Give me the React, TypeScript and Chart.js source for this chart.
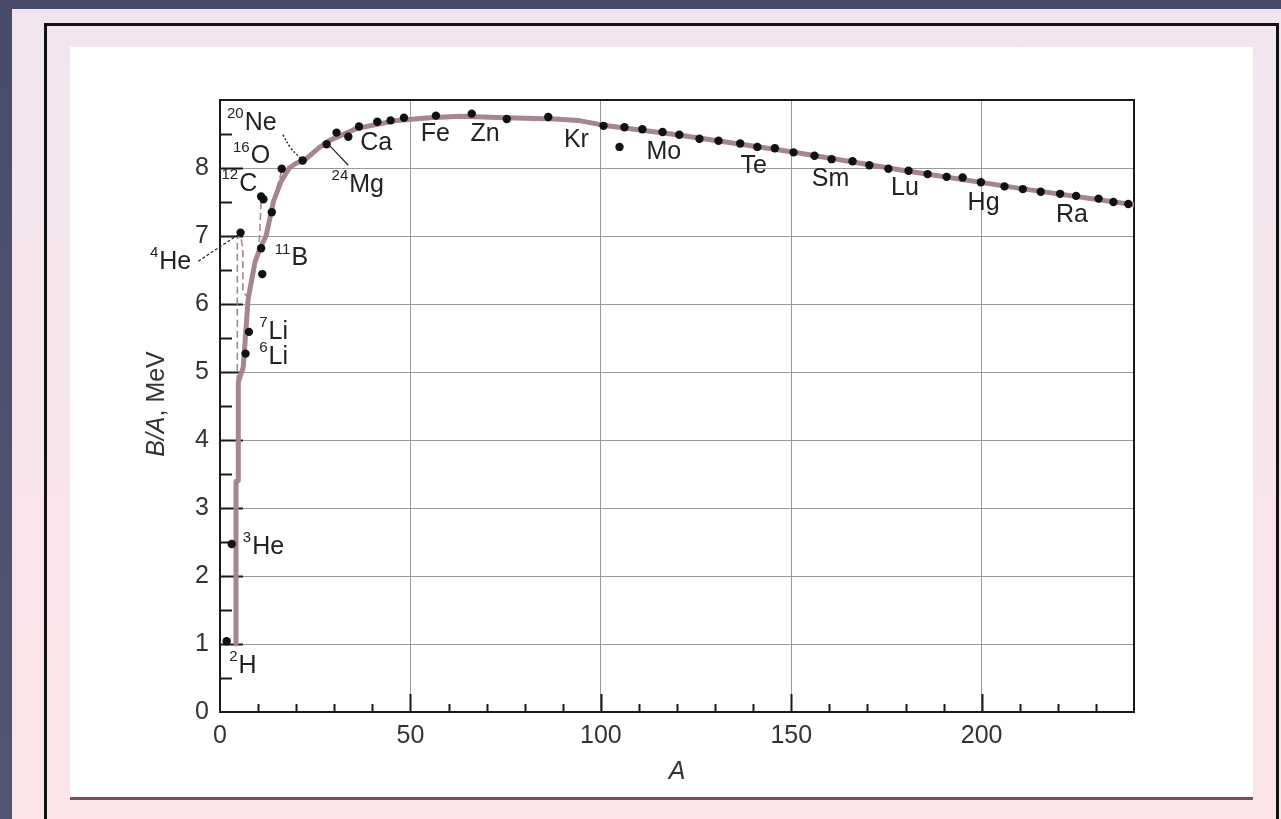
import React, { useEffect, useRef } from "react";
import { Chart, registerables } from "chart.js";

Chart.register(...registerables);

// ---------- data ----------
// measured nuclides: mass number A and binding energy per nucleon B/A (MeV)
const massNumbers = [
  1.75, 3.07, 5.4, 6.7, 7.6, 10.8, 11.1, 10.8, 11.4, 13.6, 16.2, 21.7, 28.0,
  30.6, 33.7, 36.5, 41.3, 44.8, 48.3, 56.7, 66.1, 75.3, 86.2, 100.7, 104.9,
  106.2, 110.9, 116.2, 120.6, 125.9, 130.9, 136.6, 141.1, 145.7, 150.6, 156.1,
  160.6, 166.1, 170.5, 175.5, 180.8, 185.8, 190.8, 195.0, 199.8, 206.0, 210.8,
  215.5, 220.6, 224.8, 230.7, 234.6, 238.5,
];
const bindingPerNucleon = [
  1.04, 2.47, 7.05, 5.27, 5.59, 6.82, 6.44, 7.58, 7.54, 7.35, 7.99, 8.11, 8.35,
  8.52, 8.46, 8.61, 8.68, 8.7, 8.74, 8.77, 8.8, 8.72, 8.75, 8.62, 8.31, 8.6,
  8.57, 8.53, 8.49, 8.43, 8.4, 8.36, 8.31, 8.29, 8.23, 8.18, 8.13, 8.1, 8.04,
  7.99, 7.96, 7.91, 7.87, 7.86, 7.79, 7.73, 7.69, 7.65, 7.62, 7.59, 7.55, 7.5,
  7.47,
];

// smooth trend curve
const curveA = [
  4.2, 4.2, 4.8, 4.8, 6.1, 7.4, 9.2, 10.5, 12.1, 14.0, 16.0, 18.2, 20.0, 22.3,
  25.8, 28.9, 35.9, 46.4, 55, 63, 75, 88, 94, 100.6, 120, 150, 180, 210, 240,
];
const curveB = [
  1.0, 3.39, 3.4, 4.85, 5.07, 6.08, 6.62, 6.82, 7.0, 7.5, 7.8, 8.0, 8.07, 8.12,
  8.29, 8.41, 8.58, 8.7, 8.74, 8.76, 8.74, 8.72, 8.7, 8.63, 8.49, 8.24, 7.96,
  7.7, 7.46,
];

// dashed guide segments (even-even nuclei)
const he4DashA = [5.4, 4.55, 4.55];
const he4DashB = [7.05, 6.95, 4.2];
const he4BranchA = [5.6, 6.0, 6.0, 7.3];
const he4BranchB = [6.95, 6.8, 6.18, 6.1];
const c12DashA = [10.8, 10.3];
const c12DashB = [7.5, 6.9];
const o16DashA = [16.2, 14.9];
const o16DashB = [7.95, 7.7];

// label leader lines
const he4LeaderA = [-5.7, 4.8];
const he4LeaderB = [6.63, 7.02];
const ne20LeaderA = [16.5, 18.5, 21.2];
const ne20LeaderB = [8.49, 8.3, 8.14];
const mg24LeaderA = [28.6, 33.7];
const mg24LeaderB = [8.34, 8.04];

// element labels: superscript, symbol, left edge (A), vertical centre (B/A)
const labelSups = ["20", "16", "12", "4", "11", "7", "6", "3", "2", "", "24", "", "", "", "", "", "", "", "", ""];
const labelNames = ["Ne", "O", "C", "He", "B", "Li", "Li", "He", "H", "Ca", "Mg", "Fe", "Zn", "Kr", "Mo", "Te", "Sm", "Lu", "Hg", "Ra"];
const labelA = [1.84, 3.4, 0.4, -18.4, 14.4, 10.3, 10.3, 6.0, 2.4, 36.8, 29.3, 52.7, 65.8, 90.3, 112.0, 136.7, 155.4, 176.2, 196.3, 219.5];
const labelB = [8.66, 8.17, 7.76, 6.62, 6.67, 5.59, 5.22, 2.43, 0.68, 8.36, 7.75, 8.5, 8.5, 8.41, 8.23, 8.03, 7.83, 7.7, 7.48, 7.3];

const xTickValues = [0, 50, 100, 150, 200];
const yTickValues = [0, 1, 2, 3, 4, 5, 6, 7, 8];
const xMinorTicks = [10, 20, 30, 40, 60, 70, 80, 90, 110, 120, 130, 140, 160, 170, 180, 190, 210, 220, 230];
const xMajorTicks = [50, 100, 150, 200];
const yMajorTicks = [1, 2, 3, 4, 5, 6, 7, 8];
const yMinorTicks = [0.5, 1.5, 2.5, 3.5, 4.5, 5.5, 6.5, 7.5, 8.5];

const xTitle = "A";
const yTitleItalic = "B/A";
const yTitleRest = ", MeV";

const FONT = "'Liberation Sans', Arial, Helvetica, sans-serif";

const pts = (xs: number[], ys: number[]) => xs.map((x, i) => ({ x, y: ys[i] }));

const framePlugin = {
  id: "framePlugin",
  beforeDatasetsDraw(chart: any) {
    const { ctx, chartArea: ca, scales } = chart;
    const xs = scales.x;
    const ys = scales.y;
    ctx.save();
    ctx.strokeStyle = "#1a1a1a";
    ctx.lineWidth = 2;
    ctx.strokeRect(ca.left, ca.top, ca.right - ca.left, ca.bottom - ca.top);
    ctx.lineWidth = 2;
    ctx.beginPath();
    xMinorTicks.forEach((v) => {
      const px = Math.round(xs.getPixelForValue(v)) + 0.5;
      ctx.moveTo(px, ca.bottom);
      ctx.lineTo(px, ca.bottom - 8);
    });
    xMajorTicks.forEach((v) => {
      const px = Math.round(xs.getPixelForValue(v)) + 0.5;
      ctx.moveTo(px, ca.bottom);
      ctx.lineTo(px, ca.bottom - 18);
    });
    yMajorTicks.forEach((v) => {
      const py = Math.round(ys.getPixelForValue(v)) + 0.5;
      ctx.moveTo(ca.left, py);
      ctx.lineTo(ca.left + 23, py);
    });
    yMinorTicks.forEach((v) => {
      const py = Math.round(ys.getPixelForValue(v)) + 0.5;
      ctx.moveTo(ca.left, py);
      ctx.lineTo(ca.left + 12, py);
    });
    ctx.stroke();
    ctx.restore();
  },
  afterDatasetsDraw(chart: any) {
    const { ctx, chartArea: ca, scales } = chart;
    const xs = scales.x;
    const ys = scales.y;
    ctx.save();
    ctx.fillStyle = "#222";
    ctx.textBaseline = "middle";
    ctx.textAlign = "left";
    labelNames.forEach((name, i) => {
      let px = xs.getPixelForValue(labelA[i]);
      const py = ys.getPixelForValue(labelB[i]);
      const sup = labelSups[i];
      if (sup) {
        ctx.font = `15px ${FONT}`;
        ctx.fillText(sup, px, py - 9);
        px += ctx.measureText(sup).width + 1;
      }
      ctx.font = `25px ${FONT}`;
      ctx.fillText(name, px, py);
    });
    // axis titles
    ctx.fillStyle = "#333";
    ctx.font = `italic 25px ${FONT}`;
    ctx.textAlign = "center";
    ctx.fillText(xTitle, (ca.left + ca.right) / 2, ca.bottom + 60);
    ctx.translate(ca.left - 63, (ca.top + ca.bottom) / 2 - 2);
    ctx.rotate(-Math.PI / 2);
    ctx.font = `italic 25px ${FONT}`;
    const w1 = ctx.measureText(yTitleItalic).width;
    ctx.font = `25px ${FONT}`;
    const w2 = ctx.measureText(yTitleRest).width;
    const start = -(w1 + w2) / 2;
    ctx.textAlign = "left";
    ctx.font = `italic 25px ${FONT}`;
    ctx.fillText(yTitleItalic, start, 0);
    ctx.font = `25px ${FONT}`;
    ctx.fillText(yTitleRest, start + w1, 0);
    ctx.restore();
  },
};

export default function App() {
  const canvasRef = useRef<HTMLCanvasElement | null>(null);

  useEffect(() => {
    if (!canvasRef.current) return;
    const lineStyle = {
      showLine: true,
      pointRadius: 0,
      pointHoverRadius: 0,
      tension: 0,
    };
    const chart = new Chart(canvasRef.current, {
      type: "scatter",
      data: {
        datasets: [
          {
            label: "nuclides",
            data: pts(massNumbers, bindingPerNucleon),
            backgroundColor: "#111",
            borderWidth: 0,
            pointRadius: 4.2,
            pointHoverRadius: 4.2,
            order: 0,
          },
          {
            label: "trend",
            data: pts(curveA, curveB),
            ...lineStyle,
            borderColor: "#a5868d",
            borderWidth: 5,
            borderJoinStyle: "round",
            borderCapStyle: "round",
            order: 6,
          },
          { label: "he4Dash", data: pts(he4DashA, he4DashB), ...lineStyle, borderColor: "#a5868d", borderWidth: 1.6, borderDash: [7, 4], order: 5 },
          { label: "he4Branch", data: pts(he4BranchA, he4BranchB), ...lineStyle, borderColor: "#a5868d", borderWidth: 1.6, borderDash: [7, 4], order: 5 },
          { label: "c12Dash", data: pts(c12DashA, c12DashB), ...lineStyle, borderColor: "#a5868d", borderWidth: 1.6, borderDash: [7, 4], order: 5 },
          { label: "o16Dash", data: pts(o16DashA, o16DashB), ...lineStyle, borderColor: "#a5868d", borderWidth: 1.6, borderDash: [7, 4], order: 5 },
          { label: "he4Leader", data: pts(he4LeaderA, he4LeaderB), ...lineStyle, borderColor: "#222", borderWidth: 1.2, borderDash: [3, 2], clip: false, order: 1 },
          { label: "ne20Leader", data: pts(ne20LeaderA, ne20LeaderB), ...lineStyle, tension: 0.4, borderColor: "#222", borderWidth: 1.4, borderDash: [2, 2], order: 1 },
          { label: "mg24Leader", data: pts(mg24LeaderA, mg24LeaderB), ...lineStyle, borderColor: "#222", borderWidth: 1.2, order: 1 },
        ] as any,
      },
      options: {
        animation: false,
        responsive: false,
        events: [],
        layout: { padding: { left: 160, right: 147, top: 100, bottom: 47 } },
        plugins: { legend: { display: false }, tooltip: { enabled: false } },
        scales: {
          x: {
            type: "linear",
            min: 0,
            max: 240,
            afterFit: (s: any) => {
              s.height = 60;
            },
            afterBuildTicks: (s: any) => {
              s.ticks = xTickValues.map((v) => ({ value: v }));
            },
            border: { display: false },
            grid: {
              drawTicks: false,
              color: (c: any) => (c.tick && (c.tick.value === 0 || c.tick.value === 240) ? "rgba(0,0,0,0)" : "#999"),
              lineWidth: 1,
            },
            ticks: {
              padding: 9,
              color: "#333",
              font: { family: FONT, size: 25 },
              maxRotation: 0,
              autoSkip: false,
            },
          },
          y: {
            type: "linear",
            min: 0,
            max: 9,
            afterFit: (s: any) => {
              s.width = 60;
            },
            afterBuildTicks: (s: any) => {
              s.ticks = yTickValues.map((v) => ({ value: v }));
            },
            border: { display: false },
            grid: {
              drawTicks: false,
              color: (c: any) => (c.tick && c.tick.value === 0 ? "rgba(0,0,0,0)" : "#999"),
              lineWidth: 1,
            },
            ticks: {
              padding: 11,
              color: "#333",
              font: { family: FONT, size: 25 },
              autoSkip: false,
            },
          },
        },
      } as any,
      plugins: [framePlugin],
    });
    return () => chart.destroy();
  }, []);

  return (
    <div
      style={{
        position: "fixed",
        left: 0,
        top: 0,
        width: 1281,
        height: 819,
        overflow: "hidden",
        background: "linear-gradient(180deg, #484b69 0%, #525673 100%)",
      }}
    >
      <div
        style={{
          position: "absolute",
          left: 12,
          top: 9,
          right: 0,
          bottom: 0,
          background: "linear-gradient(180deg, #f2e4ef 0%, #fce4e7 100%)",
        }}
      />
      <div
        style={{
          position: "absolute",
          left: 44,
          top: 23,
          width: 1235,
          height: 900,
          border: "3px solid #111",
          boxSizing: "border-box",
        }}
      />
      <div style={{ position: "absolute", left: 70, top: 47, width: 1183, height: 750, background: "#fff" }} />
      <div style={{ position: "absolute", left: 70, top: 797, width: 1183, height: 3, background: "#7c4e59" }} />
      <canvas
        ref={canvasRef}
        width={1281}
        height={819}
        style={{ position: "absolute", left: 0, top: 0, width: 1281, height: 819 }}
      />
    </div>
  );
}
